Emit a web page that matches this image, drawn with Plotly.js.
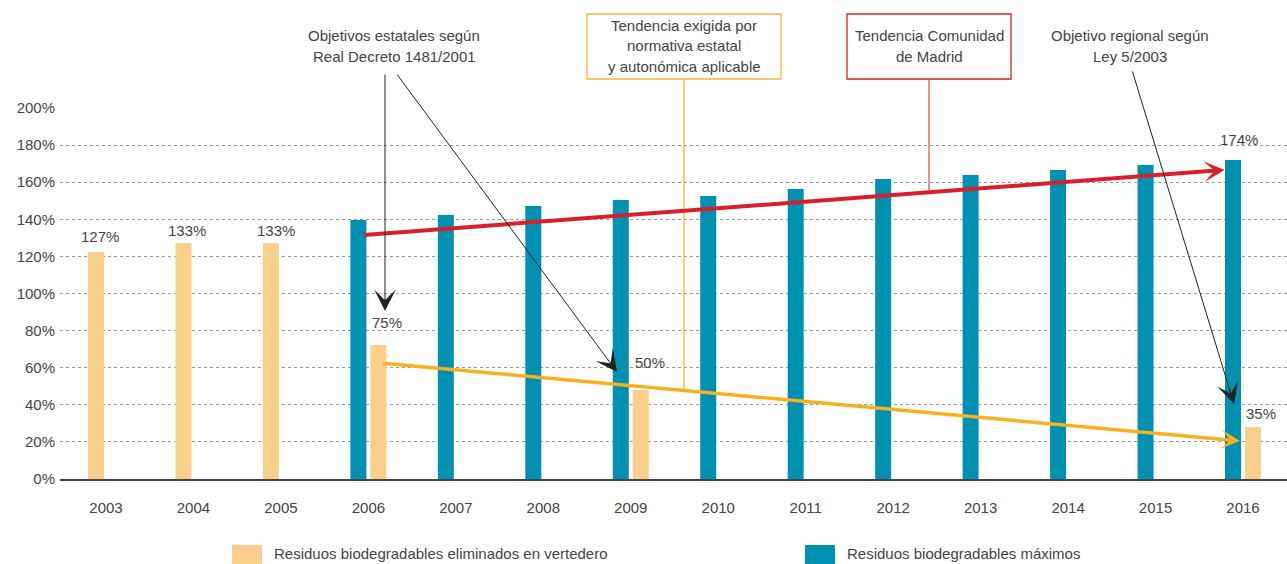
<!DOCTYPE html>
<html>
<head>
<meta charset="utf-8">
<script src="https://cdn.plot.ly/plotly-3.0.1.min.js"></script>
<style>
  html, body { margin: 0; padding: 0; background: #ffffff; }
  #chart { width: 1287px; height: 564px; }
</style>
</head>
<body>
<div id="chart"></div>
<script>
// ---- Data ----
const years = [2003, 2004, 2005, 2006, 2007, 2008, 2009, 2010, 2011, 2012, 2013, 2014, 2015, 2016];
const tickLabels = ['2003', '2004', '2005', '2006', '2007', '2008', '2009', '2010', '2011', '2012', '2013', '2014', '2015', '2016'];

const landfillYears = [2003, 2004, 2005, 2006, 2009, 2016];
const landfillValues = [122.4, 127.2, 127.2, 72.2, 48.0, 28.0];
const landfillLabels = ['127%', '133%', '133%', '75%', '50%', '35%'];

const maxYears = [2006, 2007, 2008, 2009, 2010, 2011, 2012, 2013, 2014, 2015, 2016];
const maxValues = [139.6, 142.3, 147.2, 150.4, 152.6, 156.3, 161.7, 163.9, 166.6, 169.3, 172.0];
const maxLabelYear = 2016;
const maxLabel = '174%';

// trend lines (start value, end value)
const madridTrend = [131.5, 166.6];
const requiredTrend = [62.5, 20.5];

const seriesNames = ['Residuos biodegradables eliminados en vertedero', 'Residuos biodegradables máximos'];

// ---- Styles ----
const ORANGE = '#FBCE8C';
const BLUE = '#0090B1';
const RED = '#D8202A';
const GOLD = '#F8B01F';
const TXT = '#444444';
const FONT = 'Liberation Sans, Arial, Helvetica, sans-serif';

const X0 = 2002.474, X1 = 2016.503;
const L = 60, T = 108, W = 1227, H = 371;
const px2x = p => X0 + (p - L) * (X1 - X0) / W;
const px2y = p => (T + H - p) * 200 / H;
const px2paperY = p => (T + H - p) / H;
const px2paperX = p => (p - L) / W;

const unit = W / (X1 - X0);
const BW = 16 / unit;          // bar width in data units
const leftOff = -18 / unit;
const rightOff = 2 / unit;

// orange bars sit on the right when a blue bar shares the year
const landfillOffsets = landfillYears.map(y => maxYears.includes(y) ? rightOff : leftOff);

const traces = [
  {
    type: 'bar', name: seriesNames[0],
    x: landfillYears, y: landfillValues,
    width: landfillYears.map(() => BW), offset: landfillOffsets,
    marker: { color: ORANGE }, showlegend: false
  },
  {
    type: 'bar', name: seriesNames[1],
    x: maxYears, y: maxValues,
    width: maxYears.map(() => BW), offset: maxYears.map(() => leftOff),
    marker: { color: BLUE }, showlegend: false
  }
];

const annotations = [];
// value labels
const lblShift = [[4, 15], [4, 13], [5, 13], [9, 23], [9, 27], [8, 14]];
landfillYears.forEach((yr, i) => {
  annotations.push({
    x: yr + landfillOffsets[i] + BW / 2, y: landfillValues[i], xref: 'x', yref: 'y',
    text: landfillLabels[i], showarrow: false,
    xshift: lblShift[i][0], yshift: lblShift[i][1], yanchor: 'middle',
    font: { family: FONT, size: 15, color: TXT }
  });
});
annotations.push({
  x: maxLabelYear + leftOff + BW / 2, y: maxValues[maxYears.indexOf(maxLabelYear)], xref: 'x', yref: 'y',
  text: maxLabel, showarrow: false, xshift: 6, yshift: 20, yanchor: 'middle',
  font: { family: FONT, size: 15, color: TXT }
});

// trend arrows
annotations.push({
  x: 2016 + leftOff - 0.5 / unit, y: madridTrend[1], ax: 2006 + leftOff + 12 / unit, ay: madridTrend[0],
  xref: 'x', yref: 'y', axref: 'x', ayref: 'y', text: '', showarrow: true,
  arrowhead: 3, arrowsize: 0.85, arrowwidth: 4, arrowcolor: RED, standoff: 0
});
annotations.push({
  x: 2016 - 3 / unit, y: requiredTrend[1], ax: 2006 + rightOff + 11 / unit, ay: requiredTrend[0],
  xref: 'x', yref: 'y', axref: 'x', ayref: 'y', text: '', showarrow: true,
  arrowhead: 3, arrowsize: 0.9, arrowwidth: 3.5, arrowcolor: GOLD, standoff: 0
});

// black pointer arrows
const blackArrows = [
  [[385, 73], [385, 311]],
  [[396, 73], [617, 372]],
  [[1132, 70], [1234, 404]]
];
blackArrows.forEach(a => {
  annotations.push({
    x: px2x(a[1][0]), y: px2y(a[1][1]), ax: px2x(a[0][0]), ay: px2y(a[0][1]),
    xref: 'x', yref: 'y', axref: 'x', ayref: 'y', text: '', showarrow: true,
    arrowhead: 3, arrowsize: 3.6, arrowwidth: 1, arrowcolor: '#222222', standoff: 0
  });
});

// header texts
function textLines(lines, cx, ys, size) {
  lines.forEach((t, i) => {
    annotations.push({
      x: px2paperX(cx), y: px2paperY(ys[i]), xref: 'paper', yref: 'paper',
      text: t, showarrow: false, xanchor: 'center', yanchor: 'middle',
      font: { family: FONT, size: size || 15, color: TXT }
    });
  });
}
textLines(['Objetivos estatales según', 'Real Decreto 1481/2001'], 394, [36, 56]);
textLines(['Tendencia exigida por', 'normativa estatal', 'y autonómica aplicable'], 684, [25, 46, 67]);
textLines(['Tendencia Comunidad', 'de Madrid'], 929, [36, 56]);
textLines(['Objetivo regional según', 'Ley 5/2003'], 1130, [36, 56]);

// legend (custom, as in the source graphic)
const legendItems = [
  { name: seriesNames[0], color: ORANGE, x: 232 },
  { name: seriesNames[1], color: BLUE, x: 805 }
];

const shapes = [
  // orange box and connector
  { type: 'rect', xref: 'paper', yref: 'paper', x0: px2paperX(587), x1: px2paperX(781), y0: px2paperY(79), y1: px2paperY(14),
    line: { color: '#F9B233', width: 1.3 }, fillcolor: 'rgba(0,0,0,0)' },
  { type: 'line', xref: 'paper', yref: 'paper', x0: px2paperX(684), x1: px2paperX(684), y0: px2paperY(79), y1: px2paperY(389),
    line: { color: '#F9B233', width: 1.3 } },
  // red box and connector
  { type: 'rect', xref: 'paper', yref: 'paper', x0: px2paperX(847), x1: px2paperX(1011), y0: px2paperY(79), y1: px2paperY(14),
    line: { color: '#D8202A', width: 1.3 }, fillcolor: 'rgba(0,0,0,0)' },
  { type: 'line', xref: 'paper', yref: 'paper', x0: px2paperX(929), x1: px2paperX(929), y0: px2paperY(79), y1: px2paperY(191),
    line: { color: '#E0575E', width: 1.3 } }
];
legendItems.forEach(it => {
  shapes.push({
    type: 'rect', xref: 'paper', yref: 'paper',
    x0: px2paperX(it.x), x1: px2paperX(it.x + 30), y0: px2paperY(570), y1: px2paperY(545),
    line: { width: 0 }, fillcolor: it.color
  });
  annotations.push({
    x: px2paperX(it.x + 40), y: px2paperY(553), xref: 'paper', yref: 'paper',
    text: it.name, showarrow: false, xanchor: 'left', yanchor: 'middle',
    font: { family: FONT, size: 15, color: TXT }
  });
});

const layout = {
  width: 1287, height: 564,
  margin: { l: L, r: 1287 - L - W, t: T, b: 564 - T - H, pad: 0, autoexpand: false },
  paper_bgcolor: '#ffffff', plot_bgcolor: '#ffffff',
  barmode: 'overlay',
  showlegend: false,
  font: { family: FONT, size: 15, color: TXT },
  xaxis: {
    range: [X0, X1], tickmode: 'array', tickvals: years, ticktext: tickLabels,
    showgrid: false, zeroline: false, showline: true, linecolor: '#444444', linewidth: 2,
    ticks: '', ticklabelstandoff: 14, tickfont: { family: FONT, size: 15, color: TXT }, fixedrange: true
  },
  yaxis: {
    range: [0, 200], tickvals: [0, 20, 40, 60, 80, 100, 120, 140, 160, 180, 200],
    ticktext: ['0%', '20%', '40%', '60%', '80%', '100%', '120%', '140%', '160%', '180%', '200%'],
    showgrid: true, gridcolor: '#9a9a9a', gridwidth: 1, griddash: 'dot',
    zeroline: false, showline: false, ticks: '', ticklabelstandoff: 4,
    tickfont: { family: FONT, size: 15, color: TXT }, fixedrange: true
  },
  annotations: annotations,
  shapes: shapes
};

Plotly.newPlot('chart', traces, layout, { displayModeBar: false, staticPlot: true });
</script>
</body>
</html>
